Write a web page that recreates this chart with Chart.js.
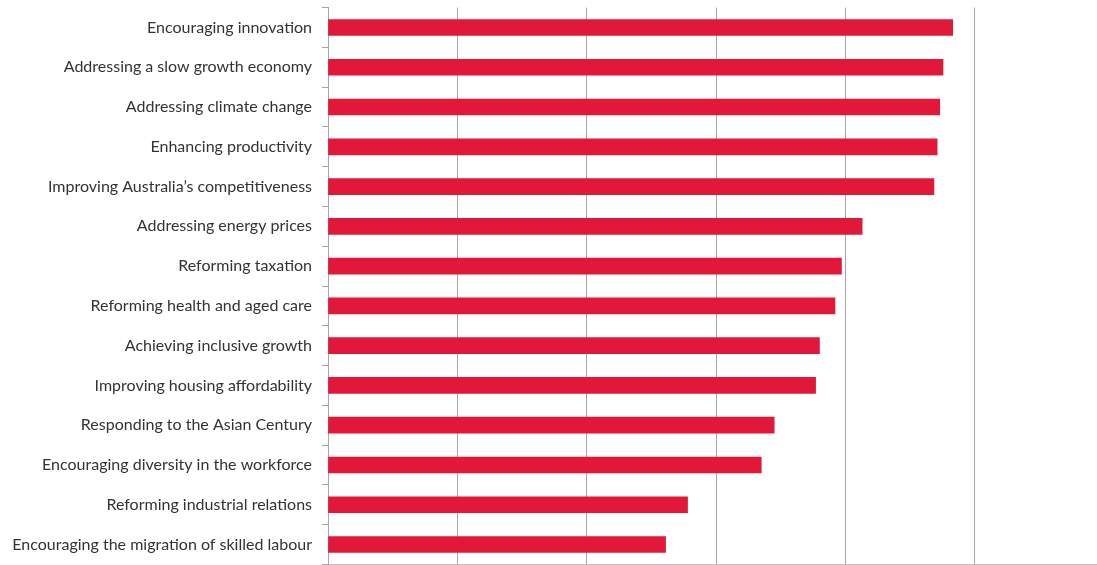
<!DOCTYPE html>
<html>
<head>
<meta charset="utf-8">
<script src="https://cdn.jsdelivr.net/npm/chart.js@4.4.0/dist/chart.umd.min.js"></script>
<style>
  html, body { margin: 0; padding: 0; background: #fff; overflow: hidden; }
  #wrap { position: relative; width: 1110px; height: 596px; top: -12px; }
</style>
</head>
<body>
<div id="wrap"><canvas id="mycanvas"></canvas></div>
<script>
// categories, top to bottom
var issues = [
	'Encouraging innovation',
	'Addressing a slow growth economy',
	'Addressing climate change',
	'Enhancing productivity',
	'Improving Australia\u2019s competitiveness',
	'Addressing energy prices',
	'Reforming taxation',
	'Reforming health and aged care',
	'Achieving inclusive growth',
	'Improving housing affordability',
	'Responding to the Asian Century',
	'Encouraging diversity in the workforce',
	'Reforming industrial relations',
	'Encouraging the migration of skilled labour'
];
var scores = [4.83, 4.755, 4.73, 4.71, 4.685, 4.13, 3.97, 3.92, 3.80, 3.77, 3.45, 3.35, 2.78, 2.61];
var axisMin = 0;
var axisMax = 6;

var ctx = document.getElementById('mycanvas');

var barChart = new Chart(ctx, {
	type: 'bar',
	data: {
		labels: issues,
		datasets: [{
			data: scores,
			backgroundColor: '#e2183a',
			borderWidth: 0,
			barThickness: 16
		}]
	},
	options: {
		indexAxis: 'y',
		responsive: true,
		maintainAspectRatio: false,
		animation: false,
		layout: { padding: { top: 0, bottom: 0, left: 0, right: 6 } },
		plugins: {
			legend: { display: false },
			tooltip: { enabled: false }
		},
		scales: {
			x: {
				min: axisMin,
				max: axisMax,
				ticks: { display: false, stepSize: 1 },
				grid: { color: '#a6a6a6', lineWidth: 1, drawTicks: false },
				border: { display: true, color: '#c4c4c4' },
				afterFit: function(scale) { scale.height = 0; }
			},
			y: {
				ticks: {
					color: '#333333',
					font: { family: 'Lato', size: 16 },
					padding: 10
				},
				grid: { drawOnChartArea: false, drawTicks: true, tickLength: 6, color: '#a6a6a6' },
				border: { display: true, color: '#a6a6a6' },
				afterFit: function(scale) { scale.width = 328; }
			}
		}
	}
});
</script>
</body>
</html>
